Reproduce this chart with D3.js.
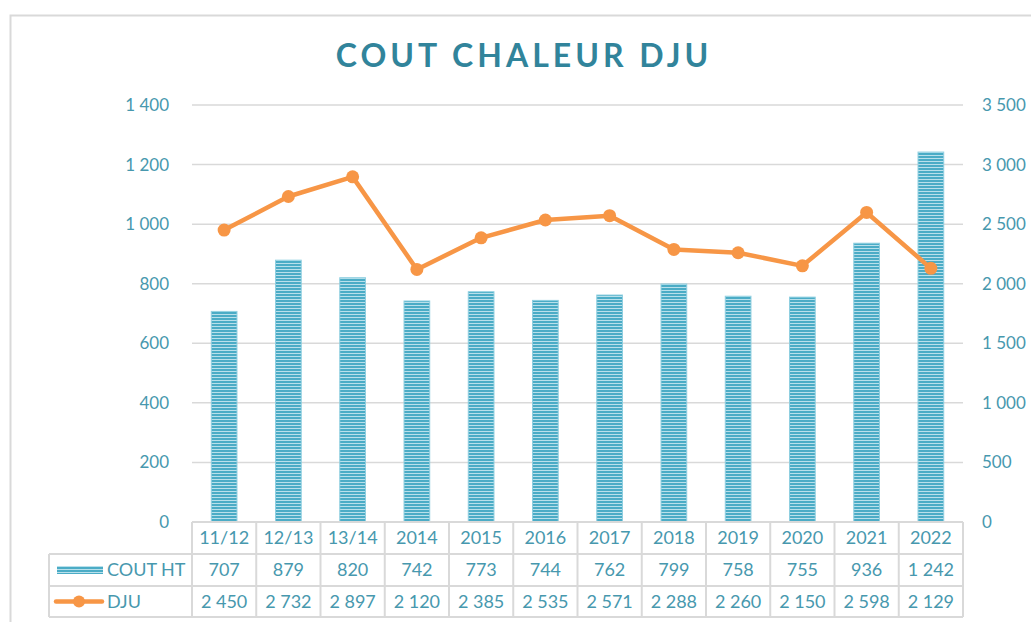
<!DOCTYPE html>
<html>
<head>
<meta charset="utf-8">
<script src="https://cdn.jsdelivr.net/npm/d3@7"></script>
<style>
  body { margin: 0; background: #fff; }
  svg text { font-family: Lato, "Open Sans", sans-serif; }
</style>
</head>
<body>
<div id="chart"></div>
<script>
const categories = ['11/12', '12/13', '13/14', '2014', '2015', '2016', '2017', '2018', '2019', '2020', '2021', '2022'];
const coutHT = [707, 879, 820, 742, 773, 744, 762, 799, 758, 755, 936, 1242];
const dju = [2450, 2732, 2897, 2120, 2385, 2535, 2571, 2288, 2260, 2150, 2598, 2129];
const leftTicks = [0, 200, 400, 600, 800, 1000, 1200, 1400];
const rightTicks = [0, 500, 1000, 1500, 2000, 2500, 3000, 3500];

const width = 1031;
const height = 622;
const margin = { top: 105, right: 68, bottom: 100, left: 192 };
const textColor = '#4798ae';
const gridColor = '#d9d9d9';
const barColor = '#4bacc6';
const lineColor = '#f79646';

// french style thousands: "1 400"
const fmt = (v) => d3.format(',')(v).replace(/,/g, ' ');

const svg = d3.select('#chart').append('svg')
  .attr('width', width)
  .attr('height', height);

/* striped pattern for the bars */
const defs = svg.append('defs');
const pat = defs.append('pattern')
  .attr('id', 'stripes')
  .attr('patternUnits', 'userSpaceOnUse')
  .attr('width', 8)
  .attr('height', 3);
pat.append('rect').attr('width', 8).attr('height', 3).attr('fill', barColor);
pat.append('rect').attr('y', 2).attr('width', 8).attr('height', 1).attr('fill', '#b9e0eb');

/* chart frame */
svg.append('path')
  .attr('d', `M10.5,${height} V15.5 H${width}`)
  .attr('fill', 'none')
  .attr('stroke', gridColor)
  .attr('stroke-width', 2);

const plotW = width - margin.left - margin.right;
const plotH = 522 - margin.top;
const plotBottom = margin.top + plotH;

const x = d3.scaleBand()
  .domain(categories)
  .range([margin.left, margin.left + plotW])
  .paddingInner(0.6)
  .paddingOuter(0.3);

const col = d3.scaleBand()
  .domain(categories)
  .range([margin.left, margin.left + plotW]);

const yLeft = d3.scaleLinear().domain([0, 1400]).range([plotBottom, margin.top]);
const yRight = d3.scaleLinear().domain([0, 3500]).range([plotBottom, margin.top]);

/* gridlines */
svg.append('g')
  .selectAll('line')
  .data(leftTicks.filter((d) => d > 0))
  .join('line')
  .attr('x1', margin.left)
  .attr('x2', margin.left + plotW)
  .attr('y1', (d) => yLeft(d))
  .attr('y2', (d) => yLeft(d))
  .attr('stroke', gridColor)
  .attr('stroke-width', 1.5);

/* axes */
const axisLeft = svg.append('g')
  .attr('transform', 'translate(172,0)')
  .call(d3.axisLeft(yLeft).tickValues(leftTicks).tickFormat(fmt).tickSize(0));
const axisRight = svg.append('g')
  .attr('transform', `translate(${margin.left + plotW + 16},0)`)
  .call(d3.axisRight(yRight).tickValues(rightTicks).tickFormat(fmt).tickSize(0));
[axisLeft, axisRight].forEach((a) => {
  a.select('.domain').remove();
  a.selectAll('text')
    .attr('fill', textColor)
    .style('font-size', '17px');
});

/* bars */
svg.append('g')
  .selectAll('rect')
  .data(coutHT)
  .join('rect')
  .attr('x', (d, i) => x(categories[i]))
  .attr('y', (d) => yLeft(d))
  .attr('width', x.bandwidth())
  .attr('height', (d) => plotBottom - yLeft(d))
  .attr('fill', 'url(#stripes)')
  .attr('stroke', '#8fcfe0')
  .attr('stroke-width', 1);

/* line */
const line = d3.line()
  .x((d, i) => x(categories[i]) + x.bandwidth() / 2)
  .y((d) => yRight(d));

svg.append('path')
  .datum(dju)
  .attr('d', line)
  .attr('fill', 'none')
  .attr('stroke', lineColor)
  .attr('stroke-width', 4.5)
  .attr('stroke-linejoin', 'round');

svg.append('g')
  .selectAll('circle')
  .data(dju)
  .join('circle')
  .attr('cx', (d, i) => x(categories[i]) + x.bandwidth() / 2)
  .attr('cy', (d) => yRight(d))
  .attr('r', 6.5)
  .attr('fill', lineColor);

/* title */
svg.append('text')
  .attr('x', 524)
  .attr('y', 67)
  .attr('text-anchor', 'middle')
  .attr('fill', '#31849b')
  .style('font-size', '32px')
  .style('font-weight', 'bold')
  .style('letter-spacing', '4px')
  .text('COUT CHALEUR DJU');

/* data table */
const rowY = [522, 554, 586, 617];
const legendLeft = 49;
const table = svg.append('g');
const tableRows = [categories, coutHT.map(fmt), dju.map(fmt)];

// horizontal lines
table.selectAll('line.h')
  .data(rowY)
  .join('line')
  .attr('class', 'h')
  .attr('x1', (d, i) => (i === 0 ? margin.left : legendLeft))
  .attr('x2', margin.left + plotW)
  .attr('y1', (d) => d)
  .attr('y2', (d) => d)
  .attr('stroke', gridColor)
  .attr('stroke-width', 2);

// vertical lines
const vx = categories.map((c) => col(c)).concat([margin.left + plotW]);
table.selectAll('line.v')
  .data(vx)
  .join('line')
  .attr('class', 'v')
  .attr('x1', (d) => d)
  .attr('x2', (d) => d)
  .attr('y1', rowY[0])
  .attr('y2', rowY[3])
  .attr('stroke', gridColor)
  .attr('stroke-width', 2);
table.append('line')
  .attr('x1', legendLeft).attr('x2', legendLeft)
  .attr('y1', rowY[1]).attr('y2', rowY[3])
  .attr('stroke', gridColor)
  .attr('stroke-width', 2);

tableRows.forEach((row, r) => {
  table.append('g')
    .selectAll('text')
    .data(row)
    .join('text')
    .attr('x', (d, i) => col(categories[i]) + col.bandwidth() / 2)
    .attr('y', (rowY[r] + rowY[r + 1]) / 2 + 6)
    .attr('text-anchor', 'middle')
    .attr('fill', textColor)
    .style('font-size', '18px')
    .text((d) => d);
});

/* legend keys inside the table */
const leg1 = (rowY[1] + rowY[2]) / 2;
const leg2 = (rowY[2] + rowY[3]) / 2;
table.append('rect')
  .attr('x', 57).attr('y', leg1 - 4)
  .attr('width', 46).attr('height', 8)
  .attr('fill', 'url(#stripes)');
table.append('line')
  .attr('x1', 56).attr('x2', 102)
  .attr('y1', leg2).attr('y2', leg2)
  .attr('stroke', lineColor)
  .attr('stroke-width', 4.5)
  .attr('stroke-linecap', 'round');
table.append('circle')
  .attr('cx', 79).attr('cy', leg2)
  .attr('r', 6)
  .attr('fill', lineColor);
table.selectAll('text.leg')
  .data([['COUT HT', leg1], ['DJU', leg2]])
  .join('text')
  .attr('class', 'leg')
  .attr('x', 107)
  .attr('y', (d) => d[1] + 6)
  .attr('fill', textColor)
  .style('font-size', '18px')
  .text((d) => d[0]);
</script>
</body>
</html>
